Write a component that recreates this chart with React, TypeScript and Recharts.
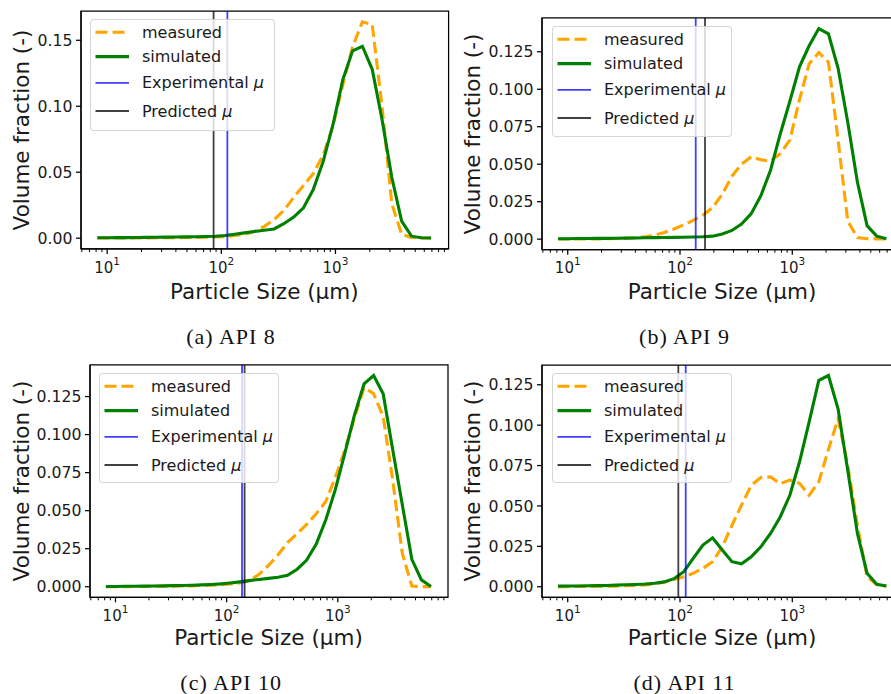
import React from "react";
import {
  LineChart,
  Line,
  XAxis,
  YAxis,
  ReferenceLine,
  ReferenceArea,
  Legend,
} from "recharts";

// particle size bins (µm), shared by every distribution
const sizes = [
  8.2, 10, 12.2, 14.9, 18.1, 22.1, 26.9, 32.8, 40, 48.8, 59.4, 72.4, 88.3, 108,
  131, 160, 195, 238, 290, 353, 431, 525, 640, 780, 951, 1159, 1413, 1722, 2099,
  2559, 3119, 3802, 4635, 5649, 6887,
];

const api8Measured = [
  0.0001, 0.0001, 0.0001, 0.0002, 0.0002, 0.0002, 0.0003, 0.0003, 0.0004,
  0.0005, 0.0006, 0.0007, 0.0009, 0.0012, 0.002, 0.003, 0.005, 0.009, 0.014,
  0.021, 0.031, 0.04, 0.049, 0.063, 0.085, 0.116, 0.145, 0.164, 0.162, 0.1,
  0.026, 0.003, 0.0005, 0.0002, 0.0001,
];
const api8Simulated = [
  0.0003, 0.0003, 0.0004, 0.0004, 0.0005, 0.0006, 0.0007, 0.0008, 0.0009,
  0.001, 0.0011, 0.0013, 0.0015, 0.002, 0.003, 0.004, 0.005, 0.006, 0.007,
  0.011, 0.016, 0.023, 0.037, 0.058, 0.086, 0.12, 0.142, 0.1455, 0.128, 0.09,
  0.046, 0.013, 0.0015, 0.0003, 0.0001,
];

const api9Measured = [
  0.0001, 0.0001, 0.0001, 0.0002, 0.0002, 0.0003, 0.0004, 0.0006, 0.0009,
  0.0015, 0.0028, 0.0045, 0.0068, 0.0095, 0.0125, 0.016, 0.021, 0.03, 0.042,
  0.05, 0.055, 0.053, 0.052, 0.057, 0.066, 0.093, 0.117, 0.1245, 0.118, 0.066,
  0.012, 0.001, 0.0003, 0.0002, 0.0001,
];
const api9Simulated = [
  0.0003, 0.0003, 0.0004, 0.0004, 0.0005, 0.0005, 0.0006, 0.0007, 0.0008,
  0.0009, 0.001, 0.0011, 0.0012, 0.0013, 0.0014, 0.0016, 0.002, 0.0035,
  0.0058, 0.01, 0.017, 0.029, 0.046, 0.07, 0.092, 0.115, 0.129, 0.1405, 0.137,
  0.114, 0.078, 0.038, 0.009, 0.002, 0.0002,
];

const api10Measured = [
  0.0001, 0.0001, 0.0001, 0.0002, 0.0002, 0.0003, 0.0003, 0.0004, 0.0005,
  0.0006, 0.0008, 0.001, 0.0013, 0.0018, 0.0025, 0.004, 0.008, 0.014, 0.021,
  0.029, 0.035, 0.041, 0.048, 0.056, 0.072, 0.09, 0.111, 0.131, 0.1268, 0.112,
  0.07, 0.022, 0.0005, 0.0001, 0.0001,
];
const api10Simulated = [
  0.0002, 0.0002, 0.0003, 0.0003, 0.0004, 0.0005, 0.0006, 0.0007, 0.0008,
  0.001, 0.0012, 0.0015, 0.0019, 0.0025, 0.0032, 0.004, 0.0048, 0.0055, 0.0062,
  0.0075, 0.0115, 0.0175, 0.028, 0.044, 0.064, 0.088, 0.113, 0.1333, 0.1388,
  0.1268, 0.09, 0.054, 0.018, 0.0045, 0.0002,
];

const api11Measured = [
  0.0001, 0.0001, 0.0002, 0.0002, 0.0003, 0.0003, 0.0004, 0.0006, 0.0008,
  0.0011, 0.0017, 0.0028, 0.0045, 0.0062, 0.0083, 0.0114, 0.0155, 0.0247,
  0.038, 0.0505, 0.0628, 0.0676, 0.068, 0.0638, 0.066, 0.064, 0.0566, 0.065,
  0.085, 0.104, 0.075, 0.038, 0.006, 0.0013, 0.0003,
];
const api11Simulated = [
  0.0004, 0.0005, 0.0005, 0.0006, 0.0007, 0.0008, 0.001, 0.0012, 0.0014,
  0.0017, 0.0022, 0.003, 0.005, 0.0093, 0.0175, 0.0258, 0.0303, 0.0227,
  0.0155, 0.0142, 0.0185, 0.0247, 0.033, 0.0432, 0.0566, 0.0772, 0.102,
  0.1277, 0.1307, 0.11, 0.072, 0.033, 0.0083, 0.0015, 0.0004,
];

// mean sizes (µm): experimental vs predicted
const experimentalMu = [113, 138, 137.5, 112.4];
const predictedMu = [85.6, 167, 145, 96.6];

// log axis: minor ticks 2..9 per decade, labels only on the decades
const sizeTicks = [
  6, 7, 8, 9, 10, 20, 30, 40, 50, 60, 70, 80, 90, 100, 200, 300, 400, 500, 600,
  700, 800, 900, 1000, 2000, 3000, 4000, 5000, 6000, 7000, 8000, 9000,
];
const sizeDomain = [5.9, 9800];

const fractionTicksCoarse = [0, 0.05, 0.1, 0.15];
const fractionTicksFine = [0, 0.025, 0.05, 0.075, 0.1, 0.125];

const PAD_L = 100;
const PAD_T = 20;
const PAD_R = 20;
const PAD_B = 60;
const INK = "#1a1a1a";

function LogTick(props: any) {
  const { x, y, payload } = props;
  const v = payload.value;
  const exp = Math.round(Math.log10(v));
  const major = Math.abs(v / Math.pow(10, exp) - 1) < 1e-9;
  return (
    <g>
      <line
        x1={x}
        x2={x}
        y1={y}
        y2={y + (major ? 5 : 3)}
        stroke="#000"
        strokeWidth={major ? 1.25 : 1}
      />
      {major && (
        <text x={x} y={y + 23.7} textAnchor="middle" fontSize={15} fill={INK}>
          10
          <tspan dy={-8} fontSize={10.5}>
            {exp}
          </tspan>
        </text>
      )}
    </g>
  );
}

const legendRows = [
  { label: "measured", mu: false, color: "#ffa500", w: 3.1, dash: "12 5" },
  { label: "simulated", mu: false, color: "#008000", w: 3.1, dash: undefined },
  { label: "Experimental ", mu: true, color: "rgba(0,0,255,0.75)", w: 1.8, dash: undefined },
  { label: "Predicted ", mu: true, color: "rgba(0,0,0,0.75)", w: 1.8, dash: undefined },
];
const legendRowY = [13.2, 37.6, 63.8, 92];

function LegendBox({ width, height }: { width: number; height: number }) {
  return (
    <div
      style={{
        width,
        height,
        boxSizing: "border-box",
        position: "relative",
        background: "rgba(255,255,255,0.8)",
        border: "1px solid rgba(204,204,204,0.8)",
        borderRadius: 4,
      }}
    >
      <svg width={width} height={height} style={{ position: "absolute", left: -1, top: -1 }}>
        {legendRows.map((r, i) => (
          <g key={r.label}>
            <line
              x1={5.5}
              x2={39}
              y1={legendRowY[i]}
              y2={legendRowY[i]}
              stroke={r.color}
              strokeWidth={r.w}
              strokeDasharray={r.dash}
            />
            <text x={52} y={legendRowY[i] + 5.6} fontSize={16} fill={INK}>
              {r.label}
              {r.mu && <tspan fontStyle="italic">μ</tspan>}
            </text>
          </g>
        ))}
      </svg>
    </div>
  );
}

type PanelProps = {
  caption: string;
  measured: number[];
  simulated: number[];
  expMu: number;
  predMu: number;
  plotX: number;
  plotY: number;
  plotW: number;
  plotH: number;
  yTicks: number[];
  digits: number;
  yLabel: [number, number];
  xLabel: [number, number];
  captionAt: [number, number];
  legendW: number;
  legendH: number;
};

function Panel(p: PanelProps) {
  const data = sizes.map((size, i) => ({
    size,
    measured: p.measured[i],
    simulated: p.simulated[i],
  }));
  const peak = Math.max(...p.measured, ...p.simulated);
  const yDomain = [-0.05 * peak, 1.05 * peak];
  const w = p.plotW + PAD_L + PAD_R;
  const h = p.plotH + PAD_T + PAD_B;

  return (
    <>
      <div style={{ position: "absolute", left: p.plotX - PAD_L, top: p.plotY - PAD_T, width: w, height: h }}>
        <LineChart width={w} height={h} data={data} margin={{ top: PAD_T, right: PAD_R, bottom: 0, left: 0 }}>
          <XAxis
            dataKey="size"
            type="number"
            scale="log"
            domain={sizeDomain}
            allowDataOverflow
            ticks={sizeTicks}
            interval={0}
            tick={<LogTick />}
            tickLine={false}
            tickSize={0}
            tickMargin={0}
            height={PAD_B}
            axisLine={{ stroke: "#000", strokeWidth: 1.25 }}
          />
          <YAxis
            type="number"
            domain={yDomain}
            allowDataOverflow
            ticks={p.yTicks}
            interval={0}
            width={PAD_L}
            tickFormatter={(v: number) => v.toFixed(p.digits)}
            tick={{ fontSize: 15.7, fill: INK }}
            tickSize={5}
            tickMargin={3.5}
            tickLine={{ stroke: "#000", strokeWidth: 1.25 }}
            axisLine={{ stroke: "#000", strokeWidth: 1.25 }}
          />
          <ReferenceArea
            x1={sizeDomain[0]}
            x2={sizeDomain[1]}
            y1={yDomain[0]}
            y2={yDomain[1]}
            fill="none"
            stroke="#000"
            strokeWidth={1.25}
            ifOverflow="visible"
          />
          <Line
            dataKey="measured"
            stroke="#ffa500"
            strokeWidth={3.1}
            strokeDasharray="11.5 5"
            dot={false}
            isAnimationActive={false}
          />
          <Line
            dataKey="simulated"
            stroke="#008000"
            strokeWidth={3.1}
            dot={false}
            isAnimationActive={false}
          />
          <ReferenceLine x={p.predMu} stroke="#000" strokeOpacity={0.75} strokeWidth={1.8} />
          <ReferenceLine x={p.expMu} stroke="#0000ff" strokeOpacity={0.75} strokeWidth={1.8} />
          <Legend
            layout="vertical"
            align="center"
            verticalAlign="middle"
            wrapperStyle={{ left: PAD_L + 9.5, top: PAD_T + 8, width: p.legendW, height: p.legendH }}
            content={() => <LegendBox width={p.legendW} height={p.legendH} />}
          />
        </LineChart>
      </div>
      <div
        style={{
          position: "absolute",
          left: p.yLabel[0],
          top: p.yLabel[1],
          transform: "translate(-50%, -50%) rotate(-90deg)",
          whiteSpace: "nowrap",
          fontSize: 21.5,
          lineHeight: 1,
          color: INK,
        }}
      >
        Volume fraction (-)
      </div>
      <div
        style={{
          position: "absolute",
          left: p.xLabel[0],
          top: p.xLabel[1],
          transform: "translate(-50%, -50%)",
          whiteSpace: "nowrap",
          fontSize: 21.5,
          lineHeight: 1,
          color: INK,
        }}
      >
        Particle Size (µm)
      </div>
      <div
        style={{
          position: "absolute",
          left: p.captionAt[0],
          top: p.captionAt[1],
          transform: "translate(-50%, -50%)",
          whiteSpace: "nowrap",
          fontFamily: "'Liberation Serif', serif",
          fontSize: 22,
          letterSpacing: 1,
          lineHeight: 1,
          color: "#111",
        }}
      >
        {p.caption}
      </div>
    </>
  );
}

export default function App() {
  return (
    <div
      style={{
        position: "absolute",
        left: 0,
        top: 0,
        width: 891,
        height: 694,
        overflow: "hidden",
        background: "#fff",
        fontFamily: "'DejaVu Sans', sans-serif",
      }}
    >
      <Panel
        caption="(a) API 8"
        measured={api8Measured}
        simulated={api8Simulated}
        expMu={experimentalMu[0]}
        predMu={predictedMu[0]}
        plotX={80.5}
        plotY={11}
        plotW={367.6}
        plotH={238}
        yTicks={fractionTicksCoarse}
        digits={2}
        yLabel={[21.7, 130]}
        xLabel={[264.3, 291.7]}
        captionAt={[231, 337]}
        legendW={185}
        legendH={112}
      />
      <Panel
        caption="(b) API 9"
        measured={api9Measured}
        simulated={api9Simulated}
        expMu={experimentalMu[1]}
        predMu={predictedMu[1]}
        plotX={542}
        plotY={18.3}
        plotW={361.6}
        plotH={231.7}
        yTicks={fractionTicksFine}
        digits={3}
        yLabel={[473.3, 134]}
        xLabel={[722, 291.7]}
        captionAt={[684.5, 337]}
        legendW={180.6}
        legendH={110.3}
      />
      <Panel
        caption="(c) API 10"
        measured={api10Measured}
        simulated={api10Simulated}
        expMu={experimentalMu[2]}
        predMu={predictedMu[2]}
        plotX={89.5}
        plotY={365}
        plotW={358}
        plotH={232.3}
        yTicks={fractionTicksFine}
        digits={3}
        yLabel={[21.7, 481]}
        xLabel={[268.5, 637.7]}
        captionAt={[231.2, 683]}
        legendW={180}
        legendH={110}
      />
      <Panel
        caption="(d) API 11"
        measured={api11Measured}
        simulated={api11Simulated}
        expMu={experimentalMu[3]}
        predMu={predictedMu[3]}
        plotX={542}
        plotY={365}
        plotW={361.6}
        plotH={232.3}
        yTicks={fractionTicksFine}
        digits={3}
        yLabel={[473.3, 481]}
        xLabel={[722, 637.7]}
        captionAt={[684.5, 683]}
        legendW={180.6}
        legendH={110}
      />
    </div>
  );
}
